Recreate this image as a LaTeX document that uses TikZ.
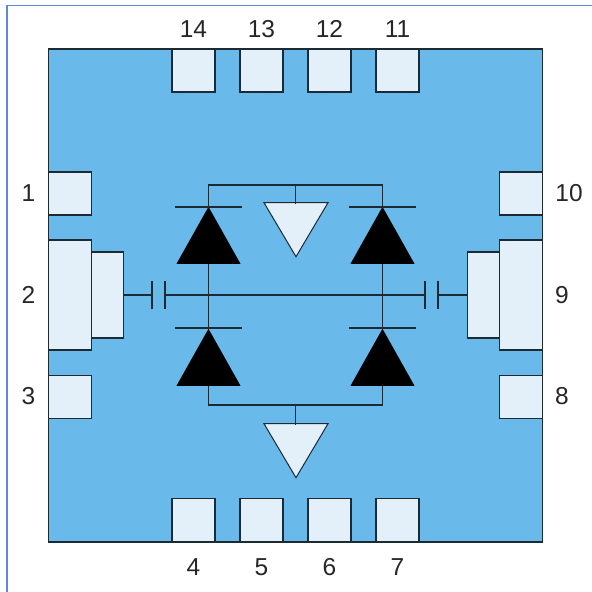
\documentclass[tikz,border=0pt]{standalone}
\usepackage{fontspec}
\setmainfont{Liberation Sans}
\usetikzlibrary{positioning, shapes.geometric}
\definecolor{pkgblue}{HTML}{69B9EA}
\definecolor{padblue}{HTML}{E3EFF9}
\definecolor{frameblue}{HTML}{5F88D8}
\definecolor{linegray}{HTML}{1C2A33}
\begin{document}
\begin{tikzpicture}[
            x = 1pt,
            y = -1pt,
            semithick
        ]
        \tikzset{
            pad/.style = {
                draw = linegray,
                fill = padblue,
                line width = 1.1pt,
                rectangle,
                inner sep = 0pt,
                minimum width = 43pt,
                minimum height = 43pt
            },
            pin/.style = {
                font = \fontsize{24.5pt}{28pt}\selectfont,
                text = black!85,
                inner sep = 0pt
            },
            wire/.style = {
                draw = linegray,
                line width = 1.2pt
            },
            diode/.style = {
                isosceles triangle,
                isosceles triangle stretches,
                shape border rotate = 90,
                anchor = apex,
                fill = black,
                inner sep = 0pt,
                minimum width = 64pt,
                minimum height = 57pt
            },
            gnd/.style = {
                isosceles triangle,
                isosceles triangle stretches,
                shape border rotate = -90,
                anchor = apex,
                draw = linegray,
                fill = padblue,
                line width = 1pt,
                inner sep = 0pt,
                minimum width = 64pt,
                minimum height = 54pt
            }
        }
        \useasboundingbox (0,0) rectangle (592,592);
        \draw[frameblue, line width = 1.7pt] (7,592) -- (7,5.5) -- (592,5.5);
        \draw[fill = pkgblue, draw = linegray, line width = 1.1pt] (48.5,49) rectangle (542.5,542);

        % pads
        \node[pad] (p14) at (193.5,70.5) {};
        \node[pad] (p13) at (261.5,70.5) {};
        \node[pad] (p12) at (329.5,70.5) {};
        \node[pad] (p11) at (397.5,70.5) {};
        \node[pad] (p4) at (193.5,520) {};
        \node[pad] (p5) at (261.5,520) {};
        \node[pad] (p6) at (329.5,520) {};
        \node[pad] (p7) at (397.5,520) {};
        \node[pad] (p1) at (70,193.5) {};
        \node[pad] (p3) at (70,397) {};
        \node[pad] (p10) at (521,193.5) {};
        \node[pad] (p8) at (521,397) {};
        \node[pad, minimum height = 110pt] (p2) at (70,295) {};
        \node[pad, minimum height = 110pt] (p9) at (521,295) {};
        \node[pad, minimum width = 32pt, minimum height = 86pt] (s2) at (107.5,295) {};
        \node[pad, minimum width = 32pt, minimum height = 86pt] (s9) at (483.5,295) {};

        % pin numbers
        \node[pin] (n14) at (193.5,29) {14};
        \node[pin] (n13) at (261.5,29) {13};
        \node[pin] (n12) at (329.5,29) {12};
        \node[pin] (n11) at (397.5,29) {11};
        \node[pin] (n4) at (193.5,567) {4};
        \node[pin] (n5) at (261.5,567) {5};
        \node[pin] (n6) at (329.5,567) {6};
        \node[pin] (n7) at (397.5,567) {7};
        \node[pin] (n1) at (28.5,193) {1};
        \node[pin] (n2) at (28.5,295) {2};
        \node[pin] (n3) at (28.5,396) {3};
        \node[pin] (n10) at (569,193) {10};
        \node[pin] (n9) at (562,295) {9};
        \node[pin] (n8) at (562,396) {8};

        % diodes
        \node[diode] (d1) at (208.5,206) {};
        \node[diode] (d2) at (382.5,206) {};
        \node[diode] (d3) at (208.5,328) {};
        \node[diode] (d4) at (382.5,328) {};
        \node[gnd] (g1) at (296,258) {};
        \node[gnd] (g2) at (296,479) {};

        % junctions and capacitor plates
        \coordinate (topl) at (208.5,185);
        \coordinate (topr) at (382.5,185);
        \coordinate (topm) at (295.5,185);
        \coordinate (botl) at (208.5,405);
        \coordinate (botr) at (382.5,405);
        \coordinate (botm) at (295.5,405);
        \coordinate (c1) at (152,295);
        \coordinate (c2) at (165,295);
        \coordinate (c3) at (425,295);
        \coordinate (c4) at (438,295);

        \draw[wire] (208.5,207) -- (topl) -- (topr) -- (382.5,207);
        \draw[wire] (topm) -- (295.5,203.5);
        \draw[wire] (d1.south) -- (208.5,328);
        \draw[wire] (d2.south) -- (382.5,328);
        \draw[wire] (d3.south) -- (botl) -- (botr) -- (d4.south);
        \draw[wire] (botm) -- (295.5,424.5);
        \draw[wire] (s2.east) -- (c1);
        \draw[wire] (c2) -- (c3);
        \draw[wire] (c4) -- (s9.west);
        \foreach \c in {c1,c2,c3,c4} {
            \draw[wire] ([yshift=-14pt]\c) -- ([yshift=14pt]\c);
        }
        \foreach \d/\b in {d1/207,d2/207,d3/328,d4/328} {
            \draw[wire] ([xshift=-33.5pt]\d.apex |- 0,\b) -- ([xshift=33.5pt]\d.apex |- 0,\b);
        }
\end{tikzpicture}
\end{document}
